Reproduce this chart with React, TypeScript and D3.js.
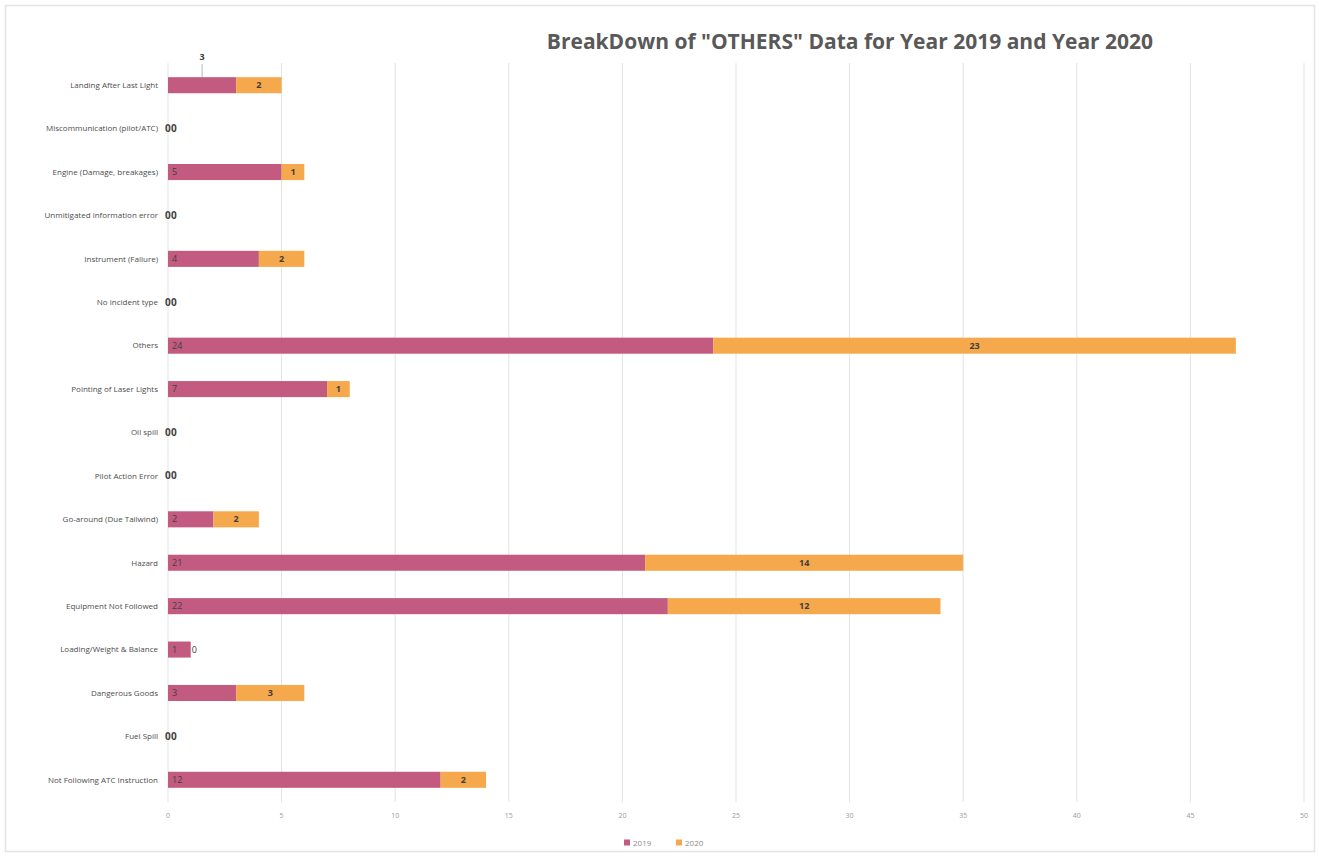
import React from 'react';
import * as d3 from 'd3';

const categories = [
    'Landing After Last Light',
    'Miscommunication (pilot/ATC)',
    'Engine (Damage, breakages)',
    'Unmitigated information error',
    'Instrument (Failure)',
    'No incident type',
    'Others',
    'Pointing of Laser Lights',
    'Oil spill',
    'Pilot Action Error',
    'Go-around (Due Tailwind)',
    'Hazard',
    'Equipment Not Followed',
    'Loading/Weight & Balance',
    'Dangerous Goods',
    'Fuel Spill',
    'Not Following ATC Instruction',
];
const values2019 = [3, 0, 5, 0, 4, 0, 24, 7, 0, 0, 2, 21, 22, 1, 3, 0, 12];
const values2020 = [2, 0, 1, 0, 2, 0, 23, 1, 0, 0, 2, 14, 12, 0, 3, 0, 2];
const xTicks = [0, 5, 10, 15, 20, 25, 30, 35, 40, 45, 50];
const seriesNames = ['2019', '2020'];

const W = 1319;
const H = 856;
const C2019 = '#c25b7f';
const C2020 = '#f5a94c';
const FONT = '"Open Sans", "Liberation Sans", sans-serif';

const App: React.FC = () => {
    const x = d3.scaleLinear().domain([0, 50]).range([168, 1304]);
    const y = d3.scaleBand<string>()
        .domain(categories)
        .range([63.5, 801.5])
        .paddingInner(0.63)
        .paddingOuter(0.315);
    const bh = y.bandwidth();

    return (
        <svg width={W} height={H} style={{position: 'absolute', left: 0, top: 0, background: '#fff'}}
             fontFamily={FONT}>
            {/* Rahmen */}
            <rect x={5.5} y={5.5} width={1309} height={846} fill="#fff" stroke="#e4e4e4" strokeWidth={1.5}/>

            <text x={850} y={49} textAnchor="middle" fontSize={21} fontWeight="bold" fill="#595959">
                BreakDown of "OTHERS" Data for Year 2019 and Year 2020
            </text>

            {/* Gitterlinien */}
            {xTicks.map(t => (
                <g key={t}>
                    <line x1={x(t)} x2={x(t)} y1={63} y2={802} stroke="#e3e3e3" strokeWidth={1}/>
                    <text x={x(t)} y={818} textAnchor="middle" fontSize={7} fill="#9a9a9a">{t}</text>
                </g>
            ))}

            {categories.map((c, i) => {
                const yc = (y(c) ?? 0);
                const a = values2019[i];
                const b = values2020[i];
                const mid = yc + bh / 2;
                return (
                    <g key={c}>
                        <text x={158} y={mid} dy="0.35em" textAnchor="end" fontSize={8} fill="#4d4d4d">{c}</text>
                        {a > 0 && <rect x={x(0)} y={yc} width={x(a) - x(0)} height={bh} fill={C2019}/>}
                        {b > 0 && <rect x={x(a)} y={yc} width={x(a + b) - x(a)} height={bh} fill={C2020}/>}
                        {a === 0 && b === 0 ? (
                            <>
                                <text x={x(0) - 3} y={mid} dy="0.35em" fontSize={10} fontWeight="bold" fill="#404040">0</text>
                                <text x={x(0) + 3} y={mid} dy="0.35em" fontSize={10} fontWeight="bold" fill="#404040">0</text>
                            </>
                        ) : (
                            <>
                                {i === 0 ? (
                                    <>
                                        <text x={(x(0) + x(a)) / 2} y={60} textAnchor="middle" fontSize={9}
                                              fontWeight="bold" fill="#404040">{a}</text>
                                        <line x1={(x(0) + x(a)) / 2} x2={(x(0) + x(a)) / 2} y1={64} y2={yc}
                                              stroke="#a6a6a6" strokeWidth={0.8}/>
                                    </>
                                ) : (
                                    <text x={x(0) + 4} y={mid} dy="0.35em" fontSize={9} fill="#404040">{a}</text>
                                )}
                                {b > 0 ? (
                                    <text x={(x(a) + x(a + b)) / 2} y={mid} dy="0.35em" textAnchor="middle"
                                          fontSize={9} fontWeight="bold" fill="#404040">{b}</text>
                                ) : (
                                    <text x={x(a) + 1} y={mid} dy="0.35em" fontSize={9} fill="#404040">{b}</text>
                                )}
                            </>
                        )}
                    </g>
                );
            })}

            {/* Legende */}
            {seriesNames.map((s, i) => (
                <g key={s} transform={`translate(${624 + i * 52}, 843)`}>
                    <rect x={0} y={-3.5} width={6} height={6} fill={i === 0 ? C2019 : C2020}/>
                    <text x={9} y={0} dy="0.35em" fontSize={8} fill="#8c8c8c">{s}</text>
                </g>
            ))}
        </svg>
    );
};

export default App;
